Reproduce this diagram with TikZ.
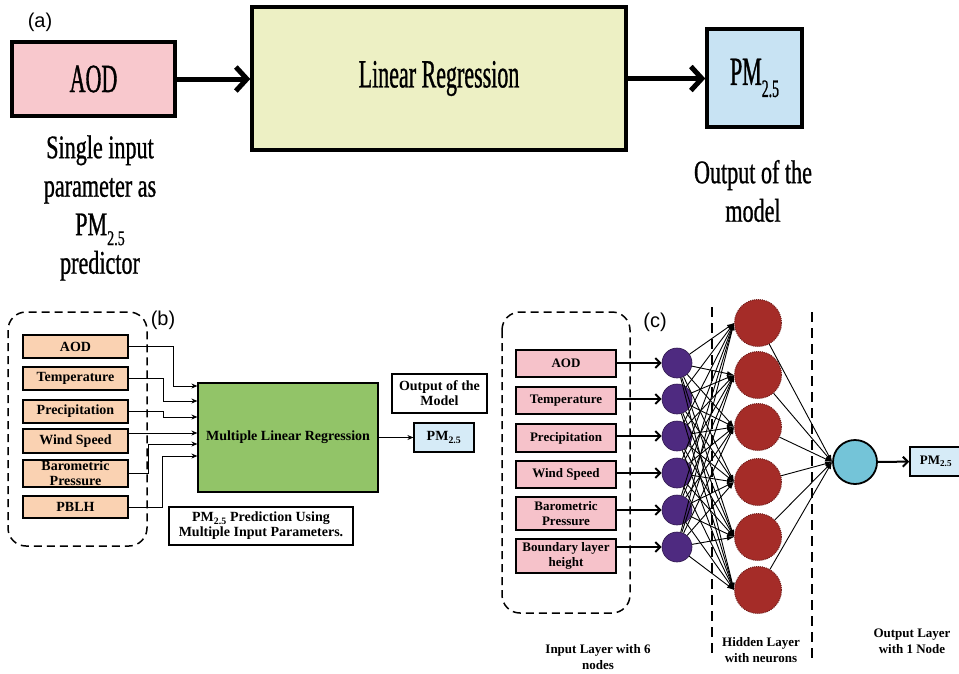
\documentclass[tikz,border=0pt]{standalone}
\usepackage{fontspec}
\setmainfont{Liberation Serif}
\newfontfamily\condfont[FakeStretch=0.55,FakeBold=0.8]{Liberation Serif}
\newfontfamily\notefont[FakeStretch=0.67,FakeBold=0.8]{Liberation Serif}
\newfontfamily\labfont{Liberation Sans}
\usetikzlibrary{arrows.meta}

\definecolor{aodpink}{RGB}{248,200,205}
\definecolor{lrcream}{RGB}{237,240,196}
\definecolor{pmblue}{RGB}{200,227,243}
\definecolor{pmlight}{RGB}{214,235,247}
\definecolor{peach}{RGB}{250,210,178}
\definecolor{mlrgreen}{RGB}{146,196,104}
\definecolor{inpink}{RGB}{246,194,202}
\definecolor{inpurple}{RGB}{78,42,128}
\definecolor{hidred}{RGB}{165,44,40}
\definecolor{outcyan}{RGB}{116,196,216}

% lowered subscript for the large condensed text
\newcommand{\lowsub}[2]{\raisebox{-0.3em}{\fontsize{#1}{#1}\selectfont #2}}

\tikzset{
  abox/.style={draw, line width=3.5pt, inner sep=0pt, font=\condfont\fontsize{40}{39}\selectfont},
  atext/.style={align=center, inner sep=0pt, font=\notefont\fontsize{33}{38.5}\selectfont},
  aarrow/.style={line width=5pt, -{Straight Barb[length=11pt,width=24pt]}},
  sbox/.style={draw, line width=1.2pt, inner sep=1pt, align=center, font=\bfseries\fontsize{14}{15}\selectfont},
  cbox/.style={sbox, fill=inpink, line width=1.5pt, font=\bfseries\fontsize{13}{14.5}\selectfont},
  ltext/.style={align=center, inner sep=0pt, font=\bfseries\fontsize{13}{15.5}\selectfont},
  barrow/.style={line width=1pt, -{Stealth[length=6pt,width=5pt]}},
  carrow/.style={line width=2pt, -{Straight Barb[length=5pt,width=10pt]}},
  harrow/.style={line width=0.9pt, -{Latex[length=7pt,width=5pt]}},
  group/.style={draw, line width=1.5pt, dash pattern=on 8pt off 5pt, rounded corners=18pt},
  sep/.style={line width=2pt, dash pattern=on 10pt off 6pt},
  inode/.style={circle, fill=inpurple, draw=inpurple!60!black, line width=0.6pt, minimum size=30, inner sep=0pt},
  hnode/.style={circle, fill=hidred, draw=hidred!70!black, densely dotted, line width=1pt, minimum size=47, inner sep=0pt},
  onode/.style={circle, fill=outcyan, draw=black, line width=1.8pt, minimum size=44, inner sep=0pt},
  panel/.style={font=\labfont\fontsize{20}{22}\selectfont},
}

\begin{document}
\begin{tikzpicture}[x=1pt, y=-1pt]
\useasboundingbox (0,0) rectangle (959,673);

% (a) single input model
\node[panel] (labela) at (40,22) {(a)};
\node[abox, fill=aodpink, minimum width=163, minimum height=74] (aod) at (93.5,79) {AOD};
\node[abox, fill=lrcream, minimum width=374, minimum height=143] (lr) at (439,78.5) {Linear Regression};
\node[abox, fill=pmblue, minimum width=95, minimum height=98] (pma) at (754.5,78) {PM\lowsub{25}{2.5}};
\draw[aarrow] (aod.east) -- (aod.east -| lr.west);
\draw[aarrow] (lr.east) -- (lr.east -| pma.west);
\node[atext] (single) at (100,208) {Single input\\parameter as\\PM\lowsub{21}{2.5}\\predictor};
\node[atext] (outa) at (753,191) {Output of the\\model};

% (b) multiple linear regression
\draw[group] (8,312) rectangle (147,546);
\node[panel] (labelb) at (163,320) {(b)};
\foreach \name/\txt/\y/\h in {aodb/AOD/346.5/23, tempb/Temperature/378.5/23, precb/Precipitation/411.5/23, windb/Wind Speed/441/24, barob/{Barometric\\Pressure}/473.5/27, pblhb/PBLH/507/22} {
    \node[sbox, fill=peach, minimum width=105, minimum height=\h] (\name) at (75.5,\y) {\txt};
}
\node[sbox, fill=mlrgreen, minimum width=180, minimum height=109] (mlr) at (288,437.5) {Multiple Linear Regression};
\node[sbox, minimum width=95, minimum height=39] (outb) at (439.5,393.5) {Output of the\\Model};
\node[sbox, fill=pmlight, minimum width=60, minimum height=29] (pmb) at (444,437.5) {PM\textsubscript{2.5}};
\node[sbox, minimum width=184, minimum height=38] (capb) at (261,526) {PM\textsubscript{2.5} Prediction Using\\Multiple Input Parameters.};
% elbow connectors into the regression box
\foreach \name/\bx/\ty in {aodb/173/386, tempb/163/401, precb/163/417, barob/148/444, pblhb/162/456} {
    \draw[barrow] (\name.east) -| (\bx,\ty) -- (mlr.west |- \bx,\ty);
}
\draw[barrow] ([yshift=8pt]windb.east) -- (mlr.west |- 0,433);
\draw[barrow] (mlr) -- (pmb);

% (c) neural network
\draw[group] (502,312) rectangle (630,613);
\node[panel] (labelc) at (655,322) {(c)};
\foreach \i/\txt/\by/\bh/\ny in {1/AOD/363.5/27/363, 2/Temperature/400.5/27/399, 3/Precipitation/438/28/436, 4/Wind Speed/474.5/27/473, 5/{Barometric\\Pressure}/513.5/33/510, 6/{Boundary layer\\height}/556/34/547} {
    \node[cbox, minimum width=100, minimum height=\bh] (box\i) at (566,\by) {\txt};
    \node[inode] (in\i) at (677,\ny) {};
    \draw[carrow] (box\i.east |- in\i.west) -- (in\i);
}
\foreach \j/\y in {1/323, 2/375, 3/427, 4/482, 5/537, 6/590} {
    \node[hnode] (hid\j) at (758,\y) {};
}
\node[onode] (out) at (855,462) {};
\node[cbox, fill=pmlight, minimum width=52, minimum height=29] (pmc) at (936,461.5) {PM\textsubscript{2.5}};
% fully connected layers
\foreach \i in {1,...,6} {
    \foreach \j in {1,...,6} {
        \draw[harrow] (in\i) -- (hid\j.west);
    }
}
\foreach \j in {1,...,6} {
    \draw[harrow] (hid\j) -- (out.west);
}
\draw[carrow] (out) -- (pmc);
\draw[sep] (712,307) -- (712,655);
\draw[sep] (812,312) -- (812,658);
\node[ltext] (lin) at (598,657) {Input Layer with 6\\nodes};
\node[ltext] (lhid) at (761,650) {Hidden Layer\\with neurons};
\node[ltext] (lout) at (912,641) {Output Layer\\with 1 Node};

\end{tikzpicture}
\end{document}
